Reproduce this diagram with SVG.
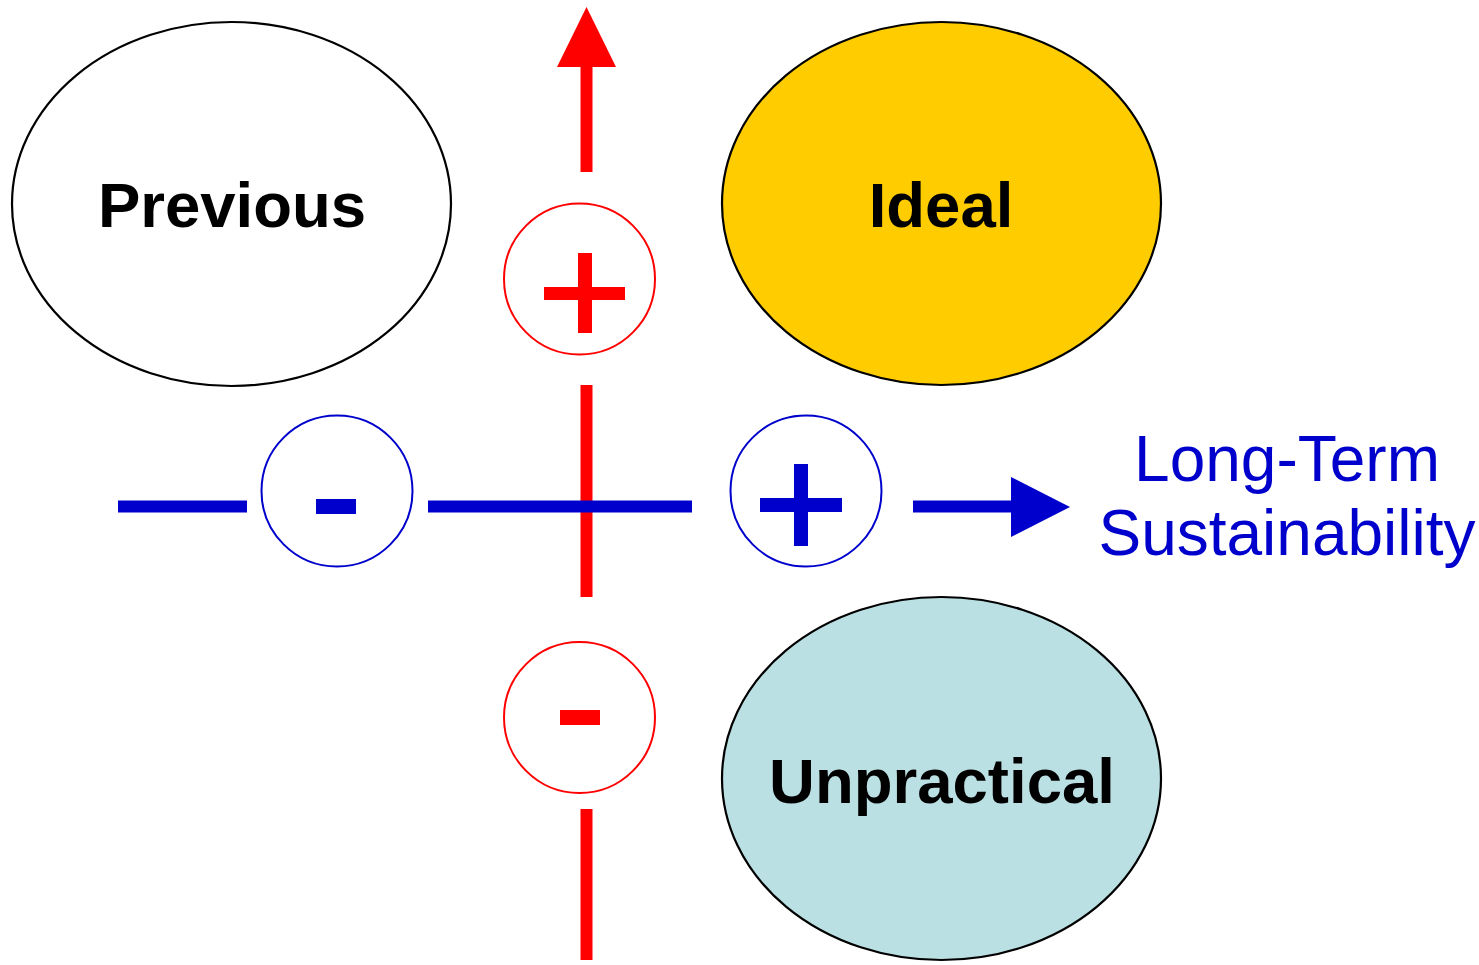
<svg xmlns="http://www.w3.org/2000/svg" width="1479" height="965" viewBox="0 0 1479 965">
<style>
.node{stroke:#000;stroke-width:2.2}
.lbl{font-family:"Liberation Sans",Arial,sans-serif;font-weight:bold;font-size:63.5px;fill:#000;text-anchor:middle}
.red{fill:#FF0000}
.blue{fill:#0000CC}
.rc{fill:#fff;stroke:#FF0000;stroke-width:2}
.bc{fill:#fff;stroke:#0000CC;stroke-width:2}
.axis{font-family:"Liberation Sans",Arial,sans-serif;font-size:64px;fill:#0000CC;text-anchor:middle}
</style>
<rect width="1479" height="965" fill="#fff"/>
<g id="connectors">
  <rect class="red" x="580.5" y="66" width="12" height="106"/>
  <polygon class="red" points="586.5,7 616,67 557,67"/>
  <rect class="red" x="580.5" y="385" width="12" height="212"/>
  <rect class="red" x="580.5" y="809" width="12" height="151"/>
  <rect class="blue" x="118" y="500.5" width="129" height="12"/>
  <rect class="blue" x="428" y="500.5" width="264" height="12"/>
  <rect class="blue" x="913" y="500.5" width="99" height="12"/>
  <polygon class="blue" points="1011,477 1070,507 1011,537"/>
</g>
<g id="previous">
  <ellipse class="node" cx="231.5" cy="204" rx="219.5" ry="182" fill="#fff"/>
  <text class="lbl" x="232" y="227">Previous</text>
</g>
<g id="ideal">
  <ellipse class="node" cx="941.5" cy="203.5" rx="219.5" ry="181.5" fill="#FFCC00"/>
  <text class="lbl" x="941" y="227">Ideal</text>
</g>
<g id="unpractical">
  <ellipse class="node" cx="941.5" cy="778.5" rx="219.5" ry="181.5" fill="#BBE0E3"/>
  <text class="lbl" x="942" y="803">Unpractical</text>
</g>
<g id="red-plus">
  <circle class="rc" cx="579.5" cy="279" r="75.5"/>
  <rect class="red" x="578" y="253" width="14" height="80"/>
  <rect class="red" x="544" y="287" width="81" height="13"/>
</g>
<g id="red-minus">
  <circle class="rc" cx="579.5" cy="717.5" r="75.5"/>
  <rect class="red" x="560" y="710" width="40" height="15"/>
</g>
<g id="blue-minus">
  <circle class="bc" cx="337" cy="491" r="75.5"/>
  <rect class="blue" x="316" y="499" width="40" height="15"/>
</g>
<g id="blue-plus">
  <circle class="bc" cx="806" cy="491" r="75.5"/>
  <rect class="blue" x="794" y="464" width="14" height="82"/>
  <rect class="blue" x="760" y="498" width="82" height="14"/>
</g>
<g id="axis-label">
  <text class="axis" x="1287" y="481">Long-Term</text>
  <text class="axis" x="1287" y="555">Sustainability</text>
</g>
</svg>
